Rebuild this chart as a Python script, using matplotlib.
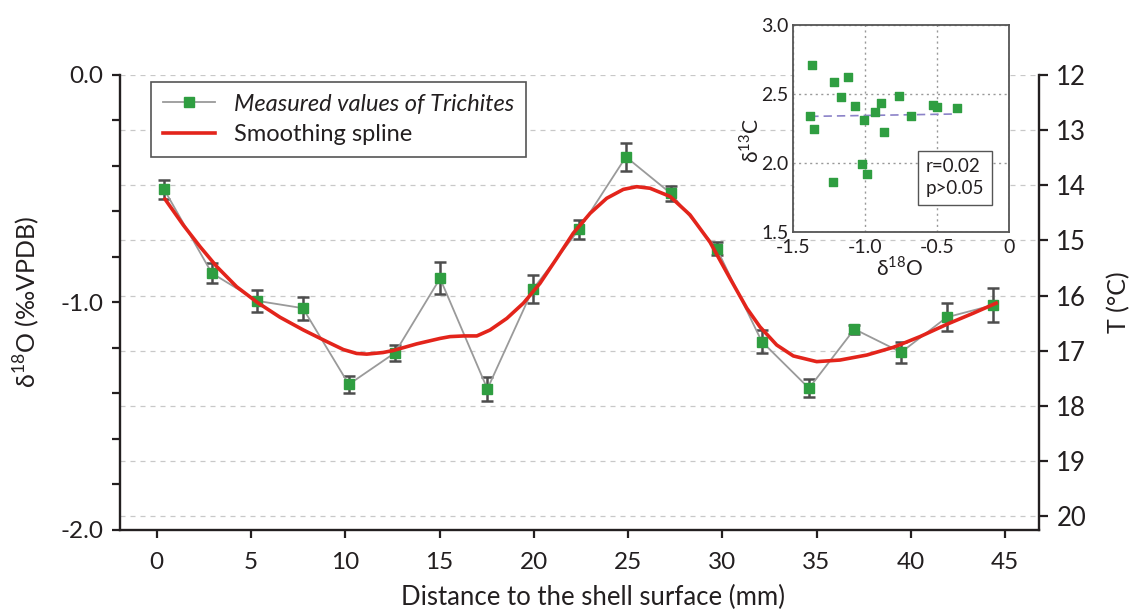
import matplotlib
matplotlib.use("Agg")
import matplotlib.pyplot as plt
from matplotlib.ticker import MultipleLocator, FixedLocator

OUT_PATH = "out.png"

# measured d18O of the trichites along the growth axis
distance_mm = [0.39, 2.92, 5.34, 7.75, 10.19, 12.64, 15.03, 17.54, 19.95, 22.40,
               24.89, 27.26, 29.71, 32.10, 34.60, 37.01, 39.49, 41.91, 44.35]
d18o = [-0.503, -0.871, -0.993, -1.025, -1.360, -1.221, -0.894, -1.380, -0.942, -0.679,
        -0.360, -0.520, -0.764, -1.172, -1.377, -1.117, -1.219, -1.065, -1.012]
d18o_err = [0.041, 0.045, 0.050, 0.050, 0.037, 0.036, 0.070, 0.052, 0.062, 0.043,
            0.061, 0.034, 0.028, 0.050, 0.040, 0.020, 0.046, 0.062, 0.074]

# smoothing spline
spline_mm = [0.44, 1.41, 2.30, 3.18, 4.24, 5.34, 6.54, 7.78, 9.02, 9.90, 10.60, 11.14,
             12.00, 12.55, 13.79, 15.03, 15.56, 16.30, 16.98, 17.68, 18.57, 19.45,
             20.33, 21.22, 22.10, 22.99, 23.87, 24.75, 25.46, 26.17, 27.23, 28.29,
             29.35, 30.41, 31.30, 32.00, 32.89, 33.77, 35.01, 36.25, 37.67, 39.08,
             40.49, 41.91, 43.32, 44.53]
spline_d18o = [-0.546, -0.660, -0.755, -0.842, -0.931, -1.000, -1.065, -1.121, -1.172,
               -1.207, -1.224, -1.227, -1.220, -1.211, -1.182, -1.158, -1.150, -1.147,
               -1.147, -1.121, -1.070, -1.003, -0.916, -0.806, -0.695, -0.608, -0.542,
               -0.503, -0.491, -0.498, -0.534, -0.615, -0.735, -0.894, -1.025, -1.107,
               -1.187, -1.235, -1.260, -1.253, -1.231, -1.197, -1.150, -1.096, -1.047,
               -1.003]

# temperature scale on the right
temp_ticks = [12, 13, 14, 15, 16, 17, 18, 19, 20]
temp_at_top = 12.0
temp_at_bottom = 20.25

# inset: d13C vs d18O
inset_d18o = [-1.371, -1.380, -1.353, -1.214, -1.219, -1.168, -1.115, -1.067, -1.005,
              -1.018, -0.988, -0.933, -0.892, -0.869, -0.763, -0.680, -0.528, -0.500,
              -0.359]
inset_d13c = [2.709, 2.337, 2.248, 2.587, 1.859, 2.478, 2.624, 2.415, 2.313,
              1.993, 1.922, 2.369, 2.434, 2.223, 2.488, 2.340, 2.417, 2.405,
              2.398]
fit_x = [-1.38, -0.39]
fit_y = [2.337, 2.354]
inset_xticks = [-1.5, -1.0, -0.5, 0.0]
inset_xticklabels = ["-1.5", "-1.0", "-0.5", "0"]
inset_yticks = [1.5, 2.0, 2.5, 3.0]
inset_yticklabels = ["1.5", "2.0", "2.5", "3.0"]

GREEN = "#2f9e41"
RED = "#e3241b"
DARK = "#231f20"

plt.rcParams["font.family"] = ["Lato", "Noto Sans", "DejaVu Sans"]
plt.rcParams["mathtext.fontset"] = "custom"
plt.rcParams["mathtext.rm"] = "Lato"
plt.rcParams["axes.unicode_minus"] = False


def draw_main(fig):
    ax = fig.add_axes([0.1060, 0.1340, 0.8118, 0.7435])
    ax2 = ax.twinx()
    ax.set_zorder(2)
    ax2.set_zorder(1)
    ax.patch.set_visible(False)

    ax.errorbar(distance_mm, d18o, yerr=d18o_err, fmt="none", ecolor="#4d4d4d",
                elinewidth=1.8, capsize=4.5, capthick=1.8, zorder=3)
    meas, = ax.plot(distance_mm, d18o, color="#9a9a9a", lw=1.3, marker="s", ms=7.5,
                    mfc=GREEN, mec=GREEN, zorder=4, label="Measured values of Trichites")
    spl, = ax.plot(spline_mm, spline_d18o, color=RED, lw=2.6, zorder=5,
                   label="Smoothing spline")

    ax.set_xlim(-1.95, 46.8)
    ax.set_ylim(-2.0, 0.0)
    ax.xaxis.set_major_locator(MultipleLocator(5))
    ax.yaxis.set_major_locator(FixedLocator([-2.0, -1.0, 0.0]))
    ax.yaxis.set_minor_locator(MultipleLocator(0.2))
    ax.set_yticklabels(["-2.0", "-1.0", "0.0"])

    for side in ("top", "right"):
        ax.spines[side].set_visible(False)
    for side in ("left", "bottom"):
        ax.spines[side].set_linewidth(1.7)
        ax.spines[side].set_color(DARK)
    ax.tick_params(axis="both", which="both", direction="out", length=5.5,
                   width=1.6, color=DARK, labelsize=17.5, labelcolor=DARK)
    ax.tick_params(axis="x", pad=10.5)
    ax.tick_params(axis="y", pad=6.5)

    ax2.set_ylim(temp_at_bottom, temp_at_top)
    ax2.yaxis.set_major_locator(FixedLocator(temp_ticks))
    ax2.yaxis.grid(True, linestyle=(0, (4, 4)), color="#c8c8c8", lw=0.9)
    for side in ("top", "left", "bottom"):
        ax2.spines[side].set_visible(False)
    ax2.spines["right"].set_linewidth(1.7)
    ax2.spines["right"].set_color(DARK)
    ax2.tick_params(axis="y", direction="out", length=6.5, width=1.6, color=DARK,
                    labelsize=18.5, labelcolor=DARK, pad=6)

    ax.set_xlabel("Distance to the shell surface (mm)", fontsize=18.5, color=DARK)
    ax.xaxis.set_label_coords(0.515, -0.121)
    ax.set_ylabel(r"δ$^{18}$O (‰VPDB)", fontsize=18, color=DARK)
    ax.yaxis.set_label_coords(-0.085, 0.5)
    ax2.set_ylabel("T (°C)", fontsize=18, color=DARK)
    ax2.yaxis.set_label_coords(1.074, 0.5)

    leg = ax.legend(handles=[meas, spl], loc="upper left", bbox_to_anchor=(0.034, 0.985),
                    borderaxespad=0, fontsize=17, fancybox=False, edgecolor="#555555",
                    framealpha=1, handlelength=2.2, borderpad=0.5, labelspacing=0.4)
    leg.get_frame().set_linewidth(1.2)
    leg.get_texts()[0].set_style("italic")
    for t in leg.get_texts():
        t.set_color(DARK)


def draw_inset(fig):
    ax_in = fig.add_axes([0.7005, 0.6214, 0.1908, 0.3377])
    ax_in.set_zorder(10)
    ax_in.set_facecolor("white")
    ax_in.scatter(inset_d18o, inset_d13c, marker="s", s=36, color=GREEN, zorder=3)
    ax_in.plot(fit_x, fit_y, color="#8b82c8", lw=1.2, linestyle=(0, (5, 3)), zorder=2)

    ax_in.set_xlim(-1.5, 0.0)
    ax_in.set_ylim(1.5, 3.0)
    ax_in.set_xticks(inset_xticks)
    ax_in.set_xticklabels(inset_xticklabels)
    ax_in.set_yticks(inset_yticks)
    ax_in.set_yticklabels(inset_yticklabels)
    ax_in.tick_params(length=0, labelsize=14, labelcolor=DARK)
    ax_in.tick_params(axis="x", pad=5)
    ax_in.tick_params(axis="y", pad=3)
    ax_in.grid(True, linestyle=(0, (1.5, 2.5)), color="#999999", lw=1.0)
    for sp in ax_in.spines.values():
        sp.set_color("#555555")
        sp.set_linewidth(1.3)

    ax_in.set_xlabel(r"δ$^{18}$O", fontsize=15, color=DARK)
    ax_in.xaxis.set_label_coords(0.495, -0.118)
    ax_in.set_ylabel(r"δ$^{13}$C", fontsize=15, color=DARK)
    ax_in.yaxis.set_label_coords(-0.139, 0.44)

    ax_in.text(0.75, 0.262, "r=0.02\np>0.05", transform=ax_in.transAxes, fontsize=13.5,
               ha="center", va="center", multialignment="left", color=DARK, zorder=5,
               linespacing=1.35,
               bbox=dict(boxstyle="square,pad=0.4", fc="white", ec="#555555", lw=1.0))


def main() -> None:
    fig = plt.figure(figsize=(11.32, 6.12), dpi=100, facecolor="white")
    draw_main(fig)
    draw_inset(fig)
    fig.savefig(OUT_PATH, dpi=100, facecolor="white")
    plt.close(fig)


if __name__ == "__main__":
    main()
